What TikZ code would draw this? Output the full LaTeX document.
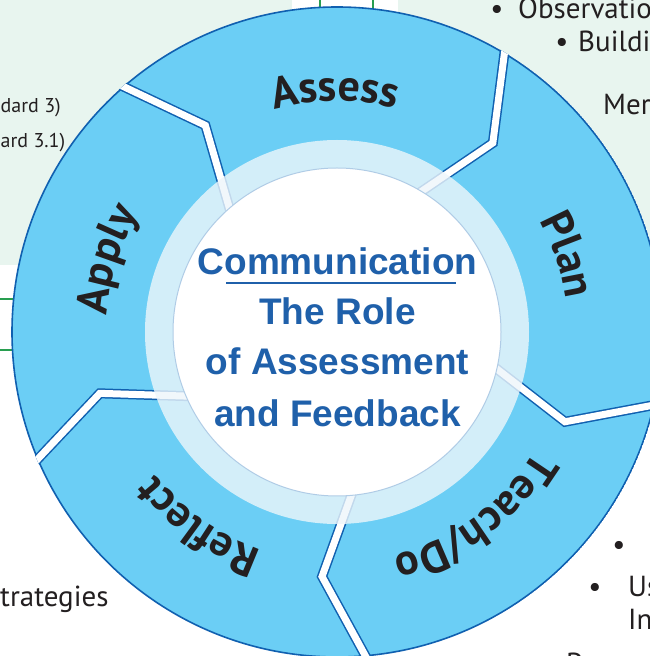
\documentclass[tikz,border=0pt]{standalone}
\usepackage{fontspec}
\setmainfont{Liberation Sans}
\newfontfamily\ptsans{PT Sans}
\usetikzlibrary{decorations.text,calc}

\definecolor{panel}{RGB}{232,245,239}
\definecolor{gline}{RGB}{40,158,80}
\definecolor{ringfill}{RGB}{107,206,245}
\definecolor{ringedge}{RGB}{16,96,176}
\definecolor{paleblue}{RGB}{238,246,251}
\definecolor{circedge}{RGB}{176,204,230}
\definecolor{ctext}{RGB}{31,96,170}
\definecolor{txt}{RGB}{35,31,32}

\newcommand{\labfont}{\ptsans\bfseries\fontsize{44}{44}\selectfont}
\newcommand{\fragfont}{\ptsans\fontsize{29}{29}\selectfont}
\newcommand{\fragsmallfont}{\ptsans\fontsize{20}{20}\selectfont}
\newcommand{\ctrfont}{\bfseries\fontsize{37}{37}\selectfont}

\begin{document}
\begin{tikzpicture}[x=1pt,y=1pt,
  greenline/.style={draw=gline, line width=1.6},
  fragtext/.style={inner sep=0pt, text=txt, font=\fragfont},
  fragsmall/.style={inner sep=0pt, text=txt, font=\fragsmallfont},
  gapedge/.style={draw=ringedge, line width=10, line join=miter, line cap=butt},
  gapfill/.style={draw=white, line width=7, line join=miter, line cap=butt},
  ctr/.style={inner sep=0pt, text=ctext, font=\ctrfont, anchor=base},
  seglabel/.style={decorate, decoration={text along path, text align=center, text color=txt}}
]
\useasboundingbox (0,0) rectangle (650,656);
\begin{scope}
  \clip (0,0) rectangle (650,656);
  \fill[white] (0,0) rectangle (650,656);
  \fill[panel] (0,391) rectangle (292,656);
  \fill[panel] (398,326) rectangle (650,656);
  % green connector lines (mostly hidden by the ring)
  \coordinate (g1a) at (320,656); \coordinate (g1b) at (320,630);
  \coordinate (g2a) at (373,656); \coordinate (g2b) at (373,630);
  \coordinate (g3a) at (0,357);   \coordinate (g3b) at (30,357);
  \coordinate (g4a) at (0,306);   \coordinate (g4b) at (30,306);
  \draw[greenline] (g1a) -- (g1b);
  \draw[greenline] (g2a) -- (g2b);
  \draw[greenline] (g3a) -- (g3b);
  \draw[greenline] (g4a) -- (g4b);
  % text fragments of the surrounding poster
  \node[fragtext, anchor=base] (bul1) at (497,637) {•};
  \node[fragtext, anchor=base west] (obs) at (518,637) {Observatio};
  \node[fragtext, anchor=base] (bul2) at (562,604) {•};
  \node[fragtext, anchor=base west] (bui) at (578,604) {Buildi};
  \node[fragtext, anchor=base west] (mer) at (603,541) {Mer};
  \node[fragsmall, anchor=base west] (sd1) at (0.5,543) {dard 3)};
  \node[fragsmall, anchor=base west] (sd2) at (0.5,508) {ard 3.1)};
  \node[fragtext, anchor=base west] (strat) at (0,49) {trategies};
  \node[fragtext, anchor=base] (bul3) at (619,101) {•};
  \node[fragtext, anchor=base] (bul4) at (595,59) {•};
  \node[fragtext, anchor=base west] (us) at (628,59) {Us};
  \node[fragtext, anchor=base west] (in) at (628,26) {In};
  \node[fragtext, anchor=base west] (pp) at (566,-17) {P};
\end{scope}

\begin{scope}[shift={(337,324)}]
  \coordinate (C) at (0,0);
  \begin{scope}
    \clip (C) circle[radius=326];
    \fill[ringfill] (C) circle[radius=325];
    \draw[ringedge, line width=1.6] (C) circle[radius=325];
    \foreach \a in {131,59,-13,-85,-157} {
      \coordinate (po) at (\a:325);
      \coordinate (pc) at (\a-8.5:245);
      \coordinate (pi) at (\a:164);
      \draw[gapedge] ($(pc)!1.3!(po)$) -- (pc) -- ($(pc)!1.5!(pi)$);
      \draw[gapfill] ($(pc)!1.3!(po)$) -- (pc) -- ($(pc)!1.5!(pi)$);
    }
  \end{scope}
  % pale ring and white centre
  \fill[paleblue, fill opacity=0.8] (C) circle[radius=192];
  \fill[white] (C) circle[radius=164];
  \draw[circedge, line width=1] (C) circle[radius=164];

  % centre text
  \node[ctr] (t1) at (0.5,57) {Communication};
  \coordinate (ul1) at (-111,49);
  \coordinate (ul2) at (119,49);
  \draw[ctext, line width=1.2] (ul1) -- (ul2);
  \node[ctr] (t2) at (0.5,7) {The Role};
  \node[ctr] (t3) at (0.5,-43) {of Assessment};
  \node[ctr] (t4) at (0.5,-95) {and Feedback};

  % segment labels along the ring
  \path[seglabel, decoration={text={|\labfont|Assess}}]
    (130.5:231) arc[start angle=130.5, end angle=50.5, radius=231];
  \path[seglabel, decoration={text={|\labfont|Plan}}]
    (58.5:231) arc[start angle=58.5, end angle=-21.5, radius=231];
  \path[seglabel, decoration={text={|\labfont|Teach/Do}}]
    (-13.5:231) arc[start angle=-13.5, end angle=-93.5, radius=231];
  \path[seglabel, decoration={text={|\labfont|Reflect}}]
    (-85.5:231) arc[start angle=-85.5, end angle=-165.5, radius=231];
  \path[seglabel, decoration={text={|\labfont|Apply}}]
    (202.5:231) arc[start angle=202.5, end angle=122.5, radius=231];
\end{scope}
\end{tikzpicture}
\end{document}
